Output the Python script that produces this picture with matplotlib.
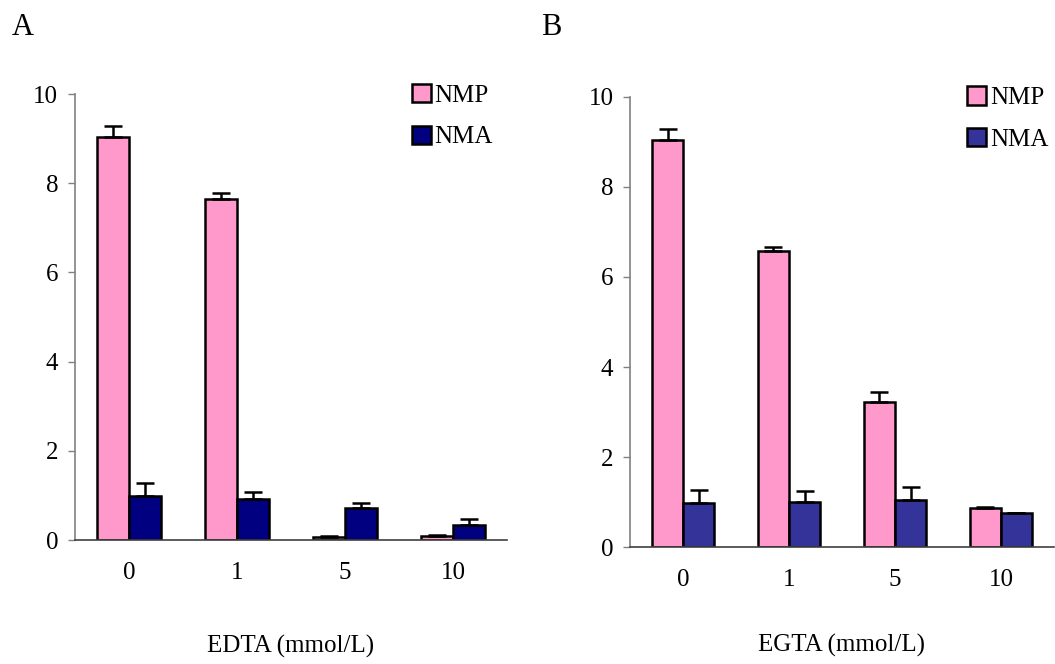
import matplotlib
matplotlib.use("Agg")
import matplotlib.pyplot as plt
import numpy as np

plt.rcParams['font.family'] = ['Liberation Serif', 'DejaVu Serif']

categories = ['0', '1', '5', '10']
series_names = ['NMP', 'NMA']

# Panel A (EDTA)
edta_nmp = [9.04, 7.64, 0.07, 0.08]
edta_nmp_err = [0.24, 0.13, 0.03, 0.04]
edta_nma = [0.99, 0.91, 0.71, 0.34]
edta_nma_err = [0.28, 0.17, 0.13, 0.13]

# Panel B (EGTA)
egta_nmp = [9.04, 6.58, 3.23, 0.87]
egta_nmp_err = [0.24, 0.09, 0.22, 0.02]
egta_nma = [0.99, 1.01, 1.05, 0.77]
egta_nma_err = [0.28, 0.24, 0.28, 0.0]

pink = '#FF99CC'
FS = 18


def draw_panel(ax, nmp, nmp_err, nma, nma_err, nma_color, xlabel, label_y, leg_x):
    x = np.arange(len(categories))
    w = 0.293
    err_kw = dict(ecolor='black', elinewidth=1.8, capsize=6.5, capthick=1.8)
    ax.bar(x - w / 2, nmp, w, color=pink, edgecolor='black', linewidth=1.8,
           yerr=[np.zeros(len(nmp)), nmp_err], error_kw=err_kw, label=series_names[0])
    ax.bar(x + w / 2, nma, w, color=nma_color, edgecolor='black', linewidth=1.8,
           yerr=[np.zeros(len(nma)), nma_err], error_kw=err_kw, label=series_names[1])
    ax.set_xlim(-0.5, 3.5)
    ax.set_ylim(0, 10)
    ax.set_yticks([0, 2, 4, 6, 8, 10])
    ax.set_xticks(x)
    ax.set_xticklabels(categories)
    ax.tick_params(axis='x', length=0, pad=16, labelsize=FS)
    ax.tick_params(axis='y', length=5, width=1, color='#808080', pad=7, labelsize=FS)
    for s in ['top', 'right']:
        ax.spines[s].set_visible(False)
    ax.spines['left'].set_color('#808080')
    ax.spines['bottom'].set_color('#404040')
    ax.spines['left'].set_linewidth(1.2)
    ax.spines['bottom'].set_linewidth(1.2)
    ax.set_xlabel(xlabel, fontsize=FS)
    ax.xaxis.set_label_coords(0.5, label_y)
    ax.xaxis.label.set_va('center')
    ax.legend(loc='upper right', bbox_to_anchor=(leg_x, 1.045), frameon=False,
              fontsize=FS, handlelength=0.75, handleheight=0.75,
              handletextpad=0.15, labelspacing=0.75, borderaxespad=0)


fig = plt.figure(figsize=(10.55, 6.64), dpi=100)
ax1 = fig.add_axes([0.0711, 0.1867, 0.4095, 0.6717])
ax2 = fig.add_axes([0.5972, 0.1758, 0.4018, 0.6786])

draw_panel(ax1, edta_nmp, edta_nmp_err, edta_nma, edta_nma_err, '#000080',
           'EDTA (mmol/L)', -0.238, 0.99)
draw_panel(ax2, egta_nmp, egta_nmp_err, egta_nma, egta_nma_err, '#333399',
           'EGTA (mmol/L)', -0.219, 1.01)

fig.text(12 / 1055, 1 - 35 / 664, 'A', fontsize=22, va='baseline')
fig.text(541 / 1055, 1 - 35 / 664, 'B', fontsize=22, va='baseline')

fig.savefig('out.png', dpi=100)
